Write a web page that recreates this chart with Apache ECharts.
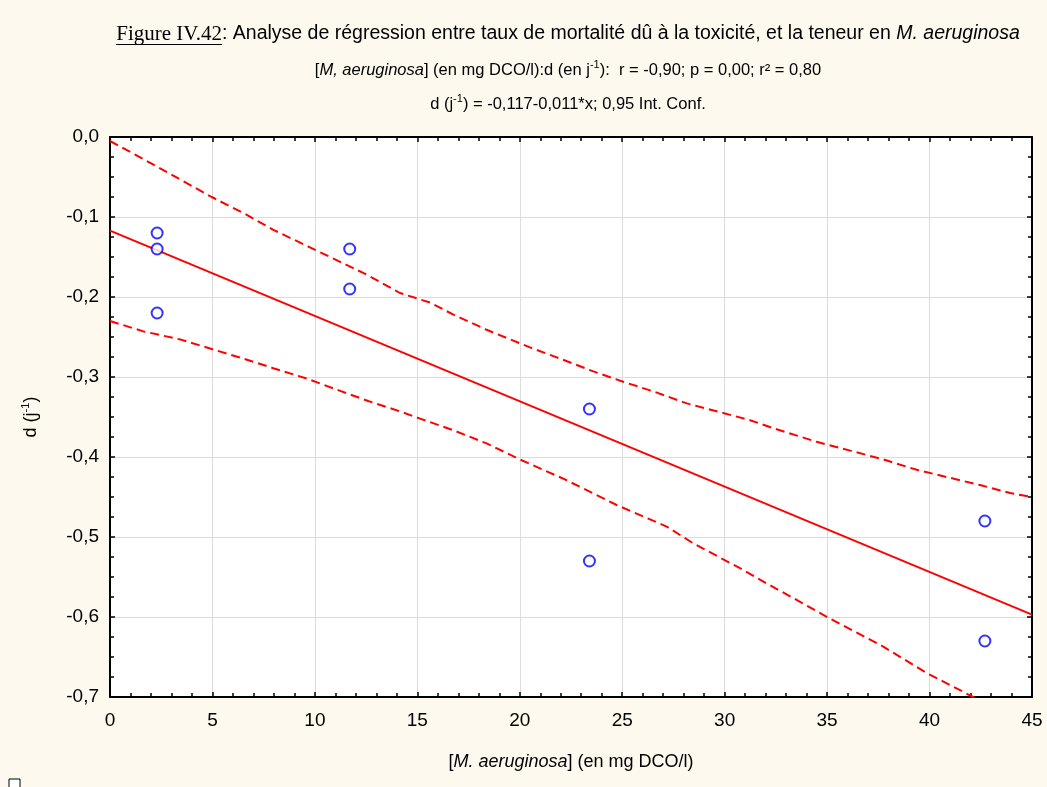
<!DOCTYPE html>
<html><head><meta charset="utf-8">
<script src="https://cdn.jsdelivr.net/npm/echarts@6/dist/echarts.min.js"></script>
<style>html,body{margin:0;padding:0;background:#FDF9EE}#c{width:1047px;height:787px}</style>
</head><body><div id="c"></div>
<script>
// ---- data ----
const obsX = [2.3, 2.3, 2.3, 11.7, 11.7, 23.4, 23.4, 42.7, 42.7];
const obsY = [-0.12, -0.14, -0.22, -0.14, -0.19, -0.34, -0.53, -0.48, -0.63];
const fitX = [0, 45];
const fitY = [-0.117, -0.597];
const upperX = [0, 1.87, 3.42, 4.96, 6.51, 7.97, 9.68, 11.23, 12.53, 14.15, 15.62, 16.76, 18.38, 20.5, 21.96, 23.59, 25.05, 26.52, 28.15, 29.93, 31.24, 32.37, 34.49, 36.12, 37.74, 39.37, 40.83, 42.46, 43.93, 45];
const upperY = [-0.005, -0.031, -0.053, -0.075, -0.095, -0.116, -0.137, -0.156, -0.172, -0.195, -0.207, -0.222, -0.241, -0.263, -0.277, -0.293, -0.306, -0.318, -0.333, -0.345, -0.354, -0.364, -0.381, -0.392, -0.403, -0.416, -0.425, -0.435, -0.445, -0.450];
const lowerX = [0, 1.63, 3.42, 4.96, 6.51, 7.97, 9.6, 11.2, 12.6, 14.15, 15.13, 16.7, 18.38, 20.0, 22.2, 24.73, 27.17, 28.47, 30.75, 32.05, 33.68, 35.14, 37.74, 39.86, 42.13, 43.5];
const lowerY = [-0.230, -0.243, -0.253, -0.265, -0.277, -0.289, -0.302, -0.317, -0.330, -0.343, -0.352, -0.366, -0.383, -0.403, -0.428, -0.460, -0.487, -0.508, -0.539, -0.558, -0.581, -0.602, -0.637, -0.670, -0.700, -0.720];
const xTickLabels = ['0', '5', '10', '15', '20', '25', '30', '35', '40', '45'];
const yTickLabels = ['-0,7', '-0,6', '-0,5', '-0,4', '-0,3', '-0,2', '-0,1', '0,0'];

const titleLine1Figure = 'Figure IV.42';
const titleLine1Text = ': Analyse de régression entre taux de mortalité dû à la toxicité, et la teneur en ';
const titleLine1Italic = 'M. aeruginosa';

// ---- helpers ----
const pairs = (xs, ys) => xs.map((x, i) => [x, ys[i]]);
const SANS = '"Liberation Sans", Arial, sans-serif';
const SERIF = '"Liberation Serif", "Times New Roman", serif';
const T1 = 19.5, FIG = 21, T2 = 16.5, TICK = 19;
const TITLE_CENTER = 568;

function measure(font, text) {
  const c = document.createElement('canvas').getContext('2d');
  c.font = font; return c.measureText(text).width;
}
const wFig = measure(FIG + 'px "Liberation Serif"', titleLine1Figure);
const wTxt = measure(T1 + 'px "Liberation Sans"', titleLine1Text);
const wIt = measure('italic ' + T1 + 'px "Liberation Sans"', titleLine1Italic);
const t1Left = TITLE_CENTER - (wFig + wTxt + wIt) / 2;

const chart = echarts.init(document.getElementById('c'), null, {renderer: 'canvas'});

const base = {fontFamily: SANS, color: '#000', fontWeight: 'normal'};
const supRich = Object.assign({}, base, {fontSize: 11, verticalAlign: 'top', lineHeight: 12});

const frameAxis = {
  axisLine: {show: true, onZero: false, lineStyle: {color: '#000', width: 2}},
  axisTick: {show: true, inside: true, length: 5, lineStyle: {color: '#000', width: 1.5}},
  minorTick: {show: true, length: 4, lineStyle: {color: '#000', width: 1.5}}
};

const option = {
  backgroundColor: '#FDF9EE',
  animation: false,
  title: [
    {
      text: '{f|' + titleLine1Figure + '}{n|' + titleLine1Text + '}{i|' + titleLine1Italic + '}',
      left: t1Left, top: 22, padding: 0,
      textStyle: {
        fontWeight: 'normal',
        rich: {
          f: Object.assign({}, base, {fontFamily: SERIF, fontSize: FIG, lineHeight: 24}),
          n: Object.assign({}, base, {fontSize: T1, lineHeight: 24}),
          i: Object.assign({}, base, {fontSize: T1, fontStyle: 'italic', lineHeight: 24})
        }
      }
    },
    {
      text: '{n|[}{i|M, aeruginosa}{n|] (en mg DCO/l):d (en j}{s|-1}{n|):  r = -0,90; p = 0,00; r² = 0,80}',
      left: TITLE_CENTER, top: 59, padding: 0, textAlign: 'center',
      textStyle: {
        fontWeight: 'normal',
        rich: {
          n: Object.assign({}, base, {fontSize: T2, lineHeight: 22}),
          i: Object.assign({}, base, {fontSize: T2, fontStyle: 'italic', lineHeight: 22}),
          s: supRich
        }
      }
    },
    {
      text: '{n|d (j}{s|-1}{n|) = -0,117-0,011*x; 0,95 Int. Conf.}',
      left: TITLE_CENTER, top: 93, padding: 0, textAlign: 'center',
      textStyle: {
        fontWeight: 'normal',
        rich: {
          n: Object.assign({}, base, {fontSize: T2, lineHeight: 22}),
          s: supRich
        }
      }
    }
  ],
  graphic: [
    {type: 'line', shape: {x1: t1Left, y1: 44.5, x2: t1Left + wFig, y2: 44.5}, style: {stroke: '#000', lineWidth: 1}},
    {type: 'rect', shape: {x: 9, y: 779, width: 11, height: 12}, style: {stroke: '#000', fill: '#fff', lineWidth: 1}}
  ],
  grid: {left: 110, top: 137, right: 15, bottom: 90, show: true, backgroundColor: '#fff', borderWidth: 0},
  xAxis: [
    Object.assign({
      type: 'value', min: 0, max: 45, interval: 5, position: 'bottom',
      splitLine: {show: true, lineStyle: {color: '#DCDCDC', width: 1}},
      axisLabel: {color: '#000', fontSize: TICK, fontFamily: SANS, margin: 14,
        formatter: v => xTickLabels[Math.round(v / 5)]},
      name: '[{i|M. aeruginosa}] (en mg DCO/l)',
      nameLocation: 'middle', nameGap: 56,
      nameTextStyle: {color: '#000', fontSize: 18, fontFamily: SANS,
        rich: {i: Object.assign({}, base, {fontStyle: 'italic', fontSize: 18})}}
    }, frameAxis, {minorTick: Object.assign({}, frameAxis.minorTick, {splitNumber: 5})}),
    Object.assign({
      type: 'value', min: 0, max: 45, interval: 5, position: 'top',
      splitLine: {show: false}, axisLabel: {show: false}
    }, frameAxis, {minorTick: Object.assign({}, frameAxis.minorTick, {splitNumber: 5})})
  ],
  yAxis: [
    Object.assign({
      type: 'value', min: -0.7, max: 0, interval: 0.1, position: 'left',
      splitLine: {show: true, lineStyle: {color: '#DCDCDC', width: 1}},
      axisLabel: {color: '#000', fontSize: TICK, fontFamily: SANS, margin: 11,
        formatter: v => yTickLabels[Math.round((v + 0.7) * 10)]},
      name: '{n|d (j}{s|-1}{n|)}',
      nameLocation: 'middle', nameGap: 68, nameRotate: 90,
      nameTextStyle: {color: '#000', fontSize: 18, fontFamily: SANS,
        rich: {n: Object.assign({}, base, {fontSize: 18, lineHeight: 22}), s: supRich}}
    }, frameAxis, {minorTick: Object.assign({}, frameAxis.minorTick, {splitNumber: 4})}),
    Object.assign({
      type: 'value', min: -0.7, max: 0, interval: 0.1, position: 'right',
      splitLine: {show: false}, axisLabel: {show: false}
    }, frameAxis, {minorTick: Object.assign({}, frameAxis.minorTick, {splitNumber: 4})})
  ],
  series: [
    {
      type: 'line', name: 'upper', data: pairs(upperX, upperY), showSymbol: false,
      clip: true, lineStyle: {color: '#FF0000', width: 2, type: [9, 5]}, z: 3
    },
    {
      type: 'line', name: 'lower', data: pairs(lowerX, lowerY), showSymbol: false,
      clip: true, lineStyle: {color: '#FF0000', width: 2, type: [9, 5]}, z: 3
    },
    {
      type: 'line', name: 'fit', data: pairs(fitX, fitY), showSymbol: false,
      clip: true, lineStyle: {color: '#FF0000', width: 2}, z: 3
    },
    {
      type: 'scatter', name: 'obs', data: pairs(obsX, obsY), symbol: 'emptyCircle', symbolSize: 11,
      itemStyle: {color: '#0000FF', borderColor: '#0000FF', borderWidth: 2}, z: 4
    }
  ]
};
chart.setOption(option);
</script>
</body></html>
